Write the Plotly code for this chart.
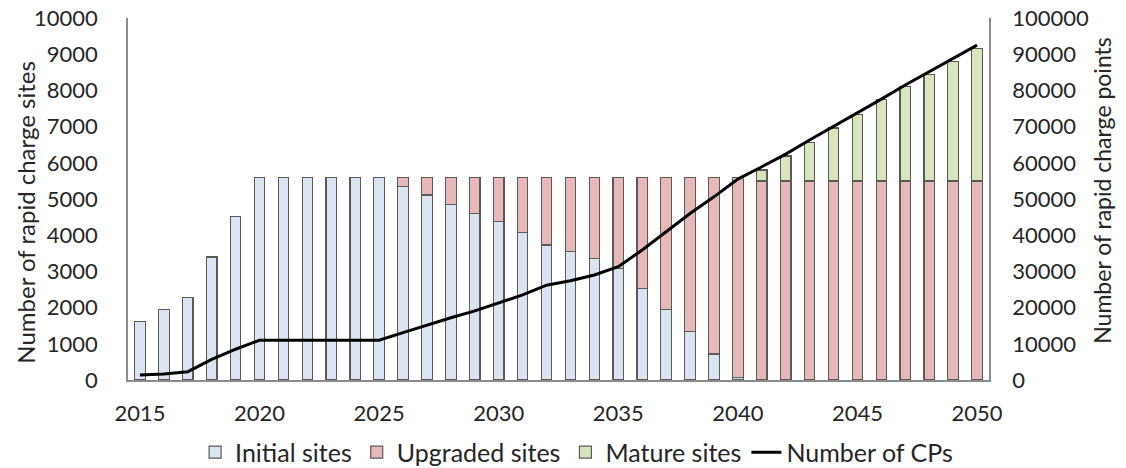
import plotly.graph_objects as go

years = list(range(2015, 2051))
initial_sites = [1620, 1950, 2280, 3400, 4520, 5600, 5600, 5600, 5600, 5600, 5600,
                 5350, 5110, 4840, 4600, 4380, 4070, 3730, 3550, 3360, 3070,
                 2530, 1950, 1340, 720, 70] + [None] * 10
upgraded_sites = [None] * 11 + [250, 490, 760, 1000, 1220, 1530, 1870, 2050, 2240, 2530,
                                3070, 3650, 4260, 4880, 5530, 5500, 5500, 5500, 5500, 5500,
                                5500, 5500, 5500, 5500, 5500]
mature_sites = [None] * 26 + [300, 690, 1070, 1460, 1840, 2240, 2600, 2950, 3290, 3650]
num_cps = [1400, 1650, 2300, 5700, 8500, 11000, 11000, 11000, 11000, 11000, 11000,
           13100, 15200, 17200, 19100, 21200, 23500, 26200, 27400, 29000, 31300,
           35900, 41000, 46000, 50600, 55500, 58900, 62400, 66300, 70000, 73800,
           77600, 81500, 85200, 88900, 92500]

FONT = "Lato"
TXT = "#262626"
AX = "#8c8c8c"
EDGE = "#5a5a5a"
TICK = 22

fig = go.Figure()
fig.add_trace(go.Bar(x=years, y=initial_sites, name="Initial sites",
                     marker=dict(color="#dbe5f1", line=dict(color=EDGE, width=1.2)), width=0.44))
fig.add_trace(go.Bar(x=years, y=upgraded_sites, name="Upgraded sites",
                     marker=dict(color="#e6b9b8", line=dict(color=EDGE, width=1.2)), width=0.44))
fig.add_trace(go.Bar(x=years, y=mature_sites, name="Mature sites",
                     marker=dict(color="#d7e4bd", line=dict(color=EDGE, width=1.2)), width=0.44))
fig.add_trace(go.Scatter(x=years, y=num_cps, name="Number of CPs", yaxis="y2",
                         mode="lines", line=dict(color="black", width=3)))

fig.update_layout(
    width=1126, height=468,
    margin=dict(l=128, r=137, t=18, b=88, autoexpand=False),
    paper_bgcolor="white", plot_bgcolor="white",
    barmode="stack",
    font=dict(family=FONT, size=TICK, color=TXT),
    xaxis=dict(range=[2014.5, 2050.5], tickmode="array", tickvals=list(range(2015, 2051, 5)),
               showgrid=False, zeroline=False, showline=True, linecolor=AX, linewidth=1.5,
               ticks="", tickfont=dict(size=TICK, family=FONT, color=TXT), ticklabelstandoff=13,
               automargin=False),
    yaxis=dict(range=[0, 10000], dtick=1000, tickformat="d", showgrid=False, zeroline=False,
               showline=True, linecolor=AX, linewidth=1.5, ticks="",
               tickfont=dict(size=TICK, family=FONT, color=TXT), ticklabelstandoff=24,
               automargin=False),
    yaxis2=dict(range=[0, 100000], dtick=10000, tickformat="d", overlaying="y", side="right",
                showgrid=False, zeroline=False, showline=True, linecolor=AX, linewidth=1.5,
                ticks="", tickfont=dict(size=TICK, family=FONT, color=TXT), ticklabelstandoff=17,
                automargin=False),
    showlegend=True,
    legend=dict(orientation="h", x=0.521, xanchor="center", y=-0.2, yanchor="middle",
                font=dict(size=25, family=FONT, color=TXT), traceorder="normal",
                itemwidth=30, tracegroupgap=0),
    annotations=[
        dict(text="Number of rapid charge sites", xref="paper", yref="paper",
             x=-0.12, y=0.464, textangle=-90, showarrow=False, xanchor="center", yanchor="middle",
             font=dict(size=24, family=FONT, color=TXT)),
        dict(text="Number of rapid charge points", xref="paper", yref="paper",
             x=1.131, y=0.525, textangle=-90, showarrow=False, xanchor="center", yanchor="middle",
             font=dict(size=23, family=FONT, color=TXT)),
    ],
)

fig.write_html("out.html", config={"displayModeBar": False},
               post_script="document.body.style.margin='0';document.body.style.overflow='hidden';")
